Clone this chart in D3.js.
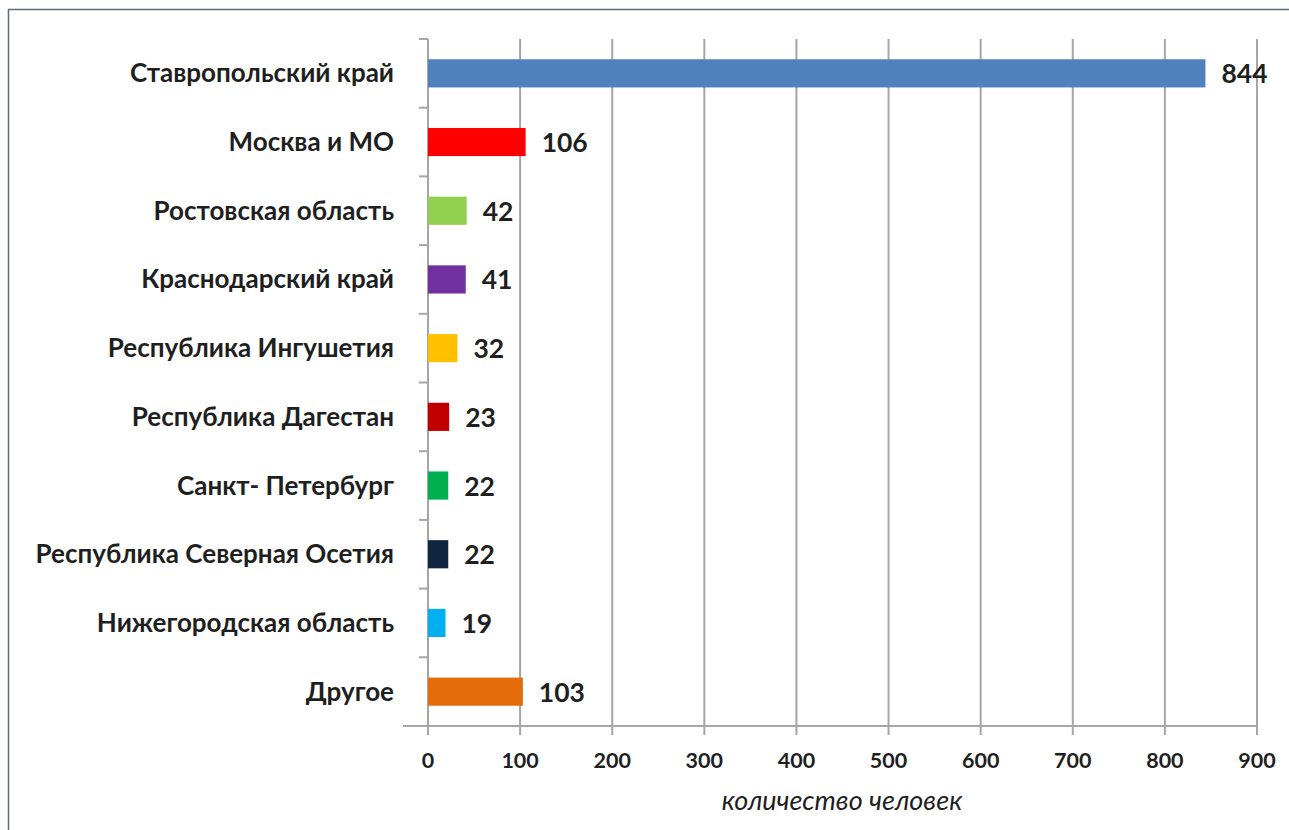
<!DOCTYPE html>
<meta charset="utf-8" />
<script src="https://d3js.org/d3.v7.min.js"></script>
<style>
	body { margin: 0; background: #fff; }
	text { font-family: Lato, "Open Sans", sans-serif; }
</style>
<div id="chart"></div>
<script>
	// data
	var regions = [
		"Ставропольский край",
		"Москва и МО",
		"Ростовская область",
		"Краснодарский край",
		"Республика Ингушетия",
		"Республика Дагестан",
		"Санкт- Петербург",
		"Республика Северная Осетия",
		"Нижегородская область",
		"Другое"
	];
	var counts = [844, 106, 42, 41, 32, 23, 22, 22, 19, 103];
	var barColors = ["#4f81bd", "#ff0000", "#92d050", "#7030a0", "#ffc000",
		"#c00000", "#00b050", "#10253f", "#00b0f0", "#e46c0a"];
	var xTicks = [0, 100, 200, 300, 400, 500, 600, 700, 800, 900];
	var xTitle = "количество человек";

	var W = 1289, H = 830;
	var plotL = 428, plotR = 1257, plotT = 39, plotB = 726;

	var svg = d3.select("#chart").append("svg")
		.attr("width", W).attr("height", H);

	// frame (cut off at right and bottom)
	svg.append("path")
		.attr("d", "M8.5," + H + "V9.5H" + W)
		.attr("fill", "none").attr("stroke", "#5f6b76").attr("stroke-width", 1.5);

	var x = d3.scaleLinear().domain([0, 900]).range([plotL, plotR]);
	var y = d3.scaleBand().domain(regions).range([plotT, plotB]).paddingInner(0.59).paddingOuter(0.295);
	var band = d3.scaleBand().domain(regions).range([plotT, plotB]);

	// vertical gridlines
	svg.append("g").selectAll("line").data(xTicks.slice(1)).join("line")
		.attr("x1", d => x(d)).attr("x2", d => x(d))
		.attr("y1", plotT).attr("y2", plotB)
		.attr("stroke", "#a6a6a6").attr("stroke-width", 2);

	// y axis with ticks at band boundaries
	var ay = svg.append("g");
	ay.append("line").attr("x1", x(0)).attr("x2", x(0)).attr("y1", plotT).attr("y2", plotB)
		.attr("stroke", "#a6a6a6").attr("stroke-width", 2);
	ay.selectAll(".bt").data(regions).join("line")
		.attr("x1", plotL - 9).attr("x2", plotL)
		.attr("y1", d => band(d)).attr("y2", d => band(d))
		.attr("stroke", "#a6a6a6").attr("stroke-width", 2);

	// x axis
	var ax = svg.append("g");
	ax.append("line").attr("x1", plotL - 25).attr("x2", plotR).attr("y1", plotB).attr("y2", plotB)
		.attr("stroke", "#a6a6a6").attr("stroke-width", 2);
	ax.selectAll(".tk").data(xTicks).join("line")
		.attr("x1", d => x(d)).attr("x2", d => x(d))
		.attr("y1", plotB).attr("y2", plotB + 9)
		.attr("stroke", "#a6a6a6").attr("stroke-width", 2);
	ax.selectAll("text").data(xTicks).join("text")
		.attr("x", d => x(d)).attr("y", 768)
		.attr("text-anchor", "middle")
		.attr("font-size", 21.5).attr("font-weight", "bold").attr("fill", "#1f1f1f")
		.text(d => d);

	// bars
	svg.append("g").selectAll("rect").data(counts).join("rect")
		.attr("x", x(0))
		.attr("y", (d, i) => y(regions[i]))
		.attr("width", d => x(d) - x(0))
		.attr("height", y.bandwidth())
		.attr("fill", (d, i) => barColors[i]);

	// value labels
	svg.append("g").selectAll("text").data(counts).join("text")
		.attr("x", d => x(d) + 16)
		.attr("y", (d, i) => y(regions[i]) + y.bandwidth() / 2 + 10)
		.attr("font-size", 26.5).attr("font-weight", "bold").attr("fill", "#1f1f1f")
		.text(d => d);

	// category labels
	svg.append("g").selectAll("text").data(regions).join("text")
		.attr("x", 394)
		.attr("y", d => y(d) + y.bandwidth() / 2 + 9)
		.attr("text-anchor", "end")
		.attr("font-size", 26).attr("font-weight", "bold").attr("fill", "#1f1f1f")
		.text(d => d);

	// axis title
	svg.append("text")
		.attr("x", 842).attr("y", 810)
		.attr("text-anchor", "middle")
		.attr("font-size", 27).attr("font-style", "italic").attr("fill", "#1f1f1f")
		.text(xTitle);
</script>
